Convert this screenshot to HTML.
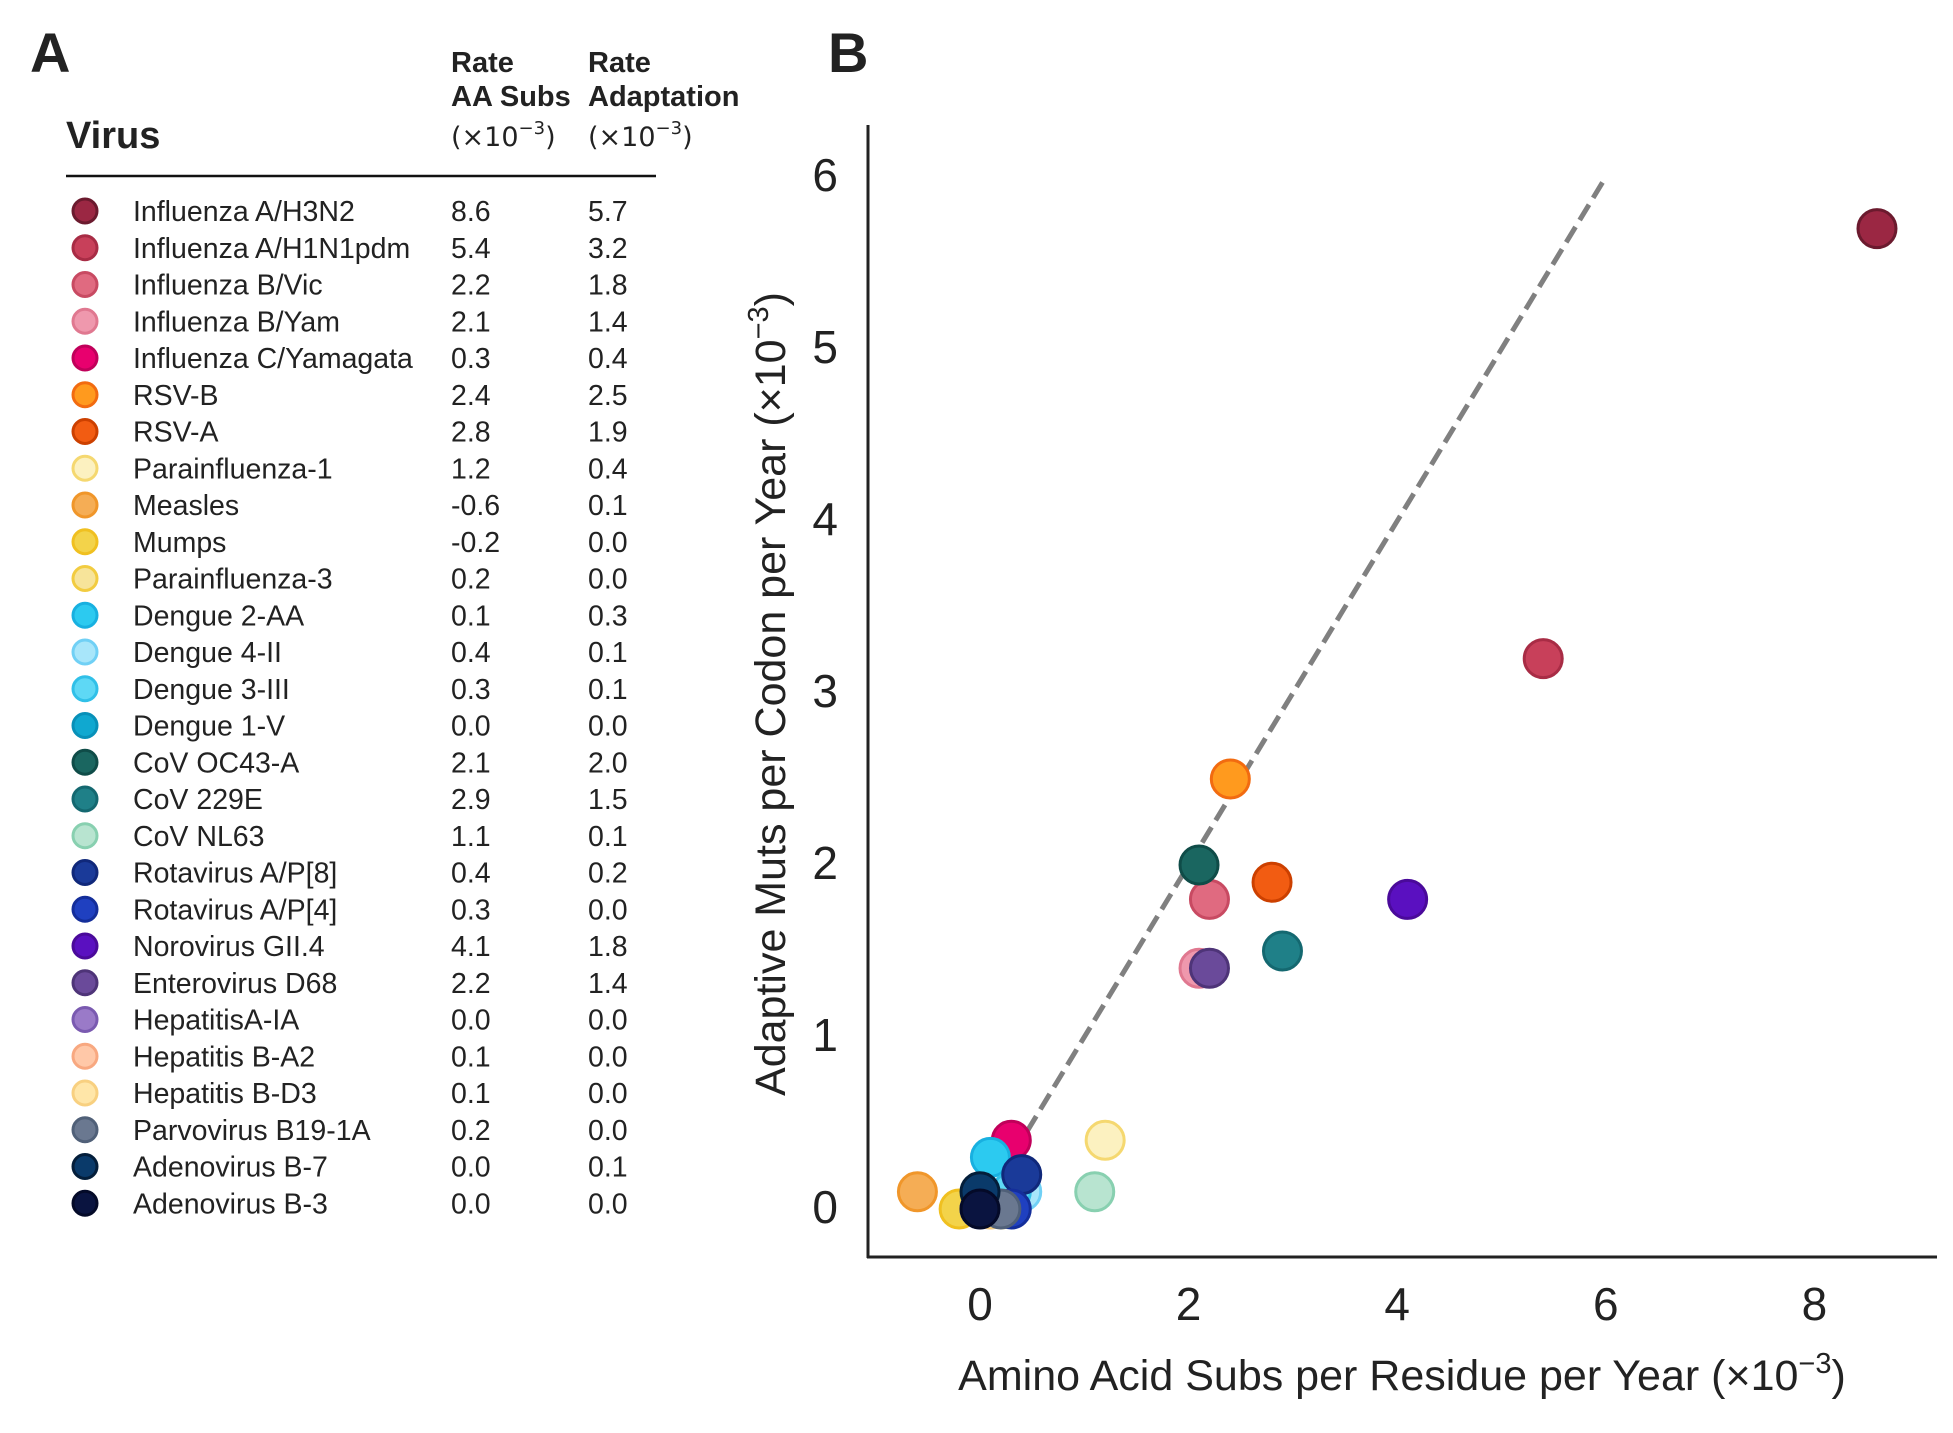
<!DOCTYPE html>
<html><head><meta charset="utf-8"><style>
body{margin:0;background:#fff;width:1953px;height:1428px;overflow:hidden;font-family:"Liberation Sans",sans-serif;color:#222}
svg text{font-family:"Liberation Sans","DejaVu Sans",sans-serif;fill:#222}
</style></head><body>
<svg id="fig" width="1953" height="1428">
<text x="30" y="72" font-size="56" font-weight="bold">A</text>
<text x="828" y="72" font-size="56" font-weight="bold">B</text>
<text x="66" y="148" font-size="38" font-weight="bold">Virus</text>
<g font-size="29" font-weight="bold">
<text x="451" y="72">Rate</text><text x="451" y="106">AA Subs</text>
<text x="588" y="72">Rate</text><text x="588" y="106">Adaptation</text>
</g>
<g font-size="27">
<text x="451" y="146" style="font-family:'DejaVu Sans',sans-serif">(×10<tspan dy="-12" font-size="18">−3</tspan><tspan dy="12">)</tspan></text>
<text x="588" y="146" style="font-family:'DejaVu Sans',sans-serif">(×10<tspan dy="-12" font-size="18">−3</tspan><tspan dy="12">)</tspan></text>
</g>
<line x1="66" y1="176" x2="656" y2="176" stroke="#111" stroke-width="2.5"/>
<g id="table"></g>
<g id="plot"></g>
</svg>
<script>
const names=["Influenza A/H3N2","Influenza A/H1N1pdm","Influenza B/Vic","Influenza B/Yam","Influenza C/Yamagata","RSV-B","RSV-A","Parainfluenza-1","Measles","Mumps","Parainfluenza-3","Dengue 2-AA","Dengue 4-II","Dengue 3-III","Dengue 1-V","CoV OC43-A","CoV 229E","CoV NL63","Rotavirus A/P[8]","Rotavirus A/P[4]","Norovirus GII.4","Enterovirus D68","HepatitisA-IA","Hepatitis B-A2","Hepatitis B-D3","Parvovirus B19-1A","Adenovirus B-7","Adenovirus B-3"];
const aaSubs=[8.6,5.4,2.2,2.1,0.3,2.4,2.8,1.2,-0.6,-0.2,0.2,0.1,0.4,0.3,0.0,2.1,2.9,1.1,0.4,0.3,4.1,2.2,0.0,0.1,0.1,0.2,0.0,0.0];
const adapt=[5.7,3.2,1.8,1.4,0.4,2.5,1.9,0.4,0.1,0.0,0.0,0.3,0.1,0.1,0.0,2.0,1.5,0.1,0.2,0.0,1.8,1.4,0.0,0.0,0.0,0.0,0.1,0.0];
const fills=["#9b2743","#c8405a","#e06a80","#ef98ad","#e8006e","#ff9a1e","#f25c12","#fcf1c0","#f5ad55","#f3d34a","#f7e49a","#2ccaf0","#a8e6fa","#5ed8f5","#10a8d0","#1a6660","#1f8088","#b8e4d0","#1a3a99","#1f40c0","#5a10c0","#6a4a9a","#9a7ac8","#ffc8a8","#ffe6a8","#6a7890","#0a3a6a","#0a1440"];
const edges=["#6b1a2e","#a82c45","#c84a62","#e07890","#c0005a","#f26b10","#cc4000","#f5d870","#f0962a","#f0c020","#f2cc40","#18b0e0","#70d0f5","#30c0e8","#0890b8","#0f4c48","#146870","#88d0b0","#10287a","#142e9a","#4a0a9a","#4e3478","#7a5ab0","#f8a880","#f8d080","#506078","#041e3a","#040a28"];
const xTicks=[0,2,4,6,8], yTicks=[0,1,2,3,4,5,6];
const NS="http://www.w3.org/2000/svg";
function mk(t,a,p){const e=document.createElementNS(NS,t);for(const k in a)e.setAttribute(k,a[k]);p.appendChild(e);return e;}
const X=v=>980+v*104.3, Y=v=>1209-v*172;
const tb=document.getElementById('table'), pl=document.getElementById('plot');
names.forEach((n,i)=>{
 const y=211+i*36.75;
 const c=mk('circle',{cx:85,cy:y,r:12,fill:fills[i],stroke:edges[i],'stroke-width':3},tb);
 
 
 const t1=mk('text',{x:133,y:y+10,'font-size':28.5},tb);t1.textContent=n;
 
 
 const t2=mk('text',{x:451,y:y+10,'font-size':28.5},tb);t2.textContent=aaSubs[i].toFixed(1);
 
 
 const t3=mk('text',{x:588,y:y+10,'font-size':28.5},tb);t3.textContent=adapt[i].toFixed(1);
 
 
});
const ax=mk('line',{x1:868,y1:125,x2:868,y2:1258,stroke:'#222','stroke-width':3},pl);


const ax2=mk('line',{x1:867,y1:1257,x2:1937,y2:1257,stroke:'#222','stroke-width':3},pl);


xTicks.forEach(v=>{const t=mk('text',{x:X(v),y:1320,'font-size':46,'text-anchor':'middle'},pl);t.textContent=v;
 
 });
yTicks.forEach(v=>{const t=mk('text',{x:838,y:Y(v)+14,'font-size':46,'text-anchor':'end'},pl);t.textContent=v;
 
 });
const xl=mk('text',{x:1402,y:1390,'font-size':43,'text-anchor':'middle'},pl);
xl.innerHTML='Amino Acid Subs per Residue per Year (×10<tspan dy="-17" font-size="29">−3</tspan><tspan dy="17">)</tspan>';


const yl=mk('text',{x:0,y:0,'font-size':43,'text-anchor':'middle',transform:'translate(785,694) rotate(-90)'},pl);
yl.innerHTML='Adaptive Muts per Codon per Year (×10<tspan dy="-17" font-size="29">−3</tspan><tspan dy="17">)</tspan>';


const dl=mk('line',{x1:X(0.45),y1:Y(0.45),x2:X(6),y2:Y(6),stroke:'#808080','stroke-width':5,'stroke-dasharray':'18 8'},pl);


names.forEach((n,i)=>{
 const c=mk('circle',{cx:X(aaSubs[i]),cy:Y(adapt[i]),r:19,fill:fills[i],stroke:edges[i],'stroke-width':3},pl);
 
 
});
</script>
</body></html>
